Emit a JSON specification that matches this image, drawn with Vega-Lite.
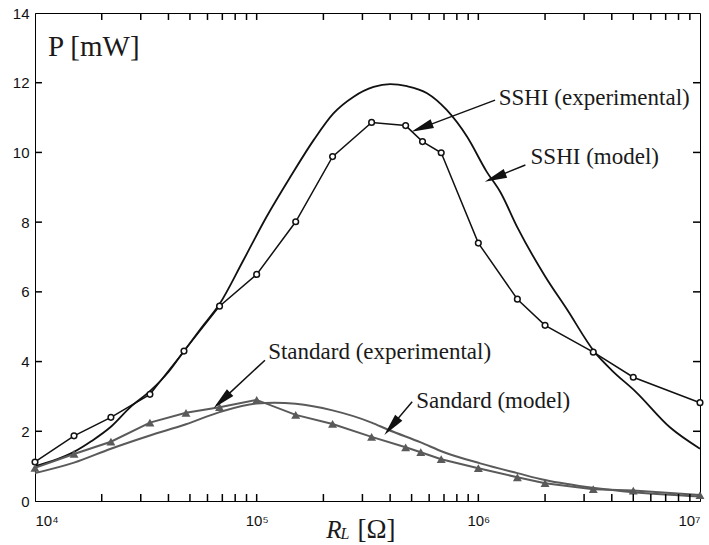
{
  "$schema": "https://vega.github.io/schema/vega-lite/v6.json",
  "width": 665,
  "height": 488,
  "autosize": {"type": "none"},
  "padding": {"left": 35, "top": 13, "right": 9, "bottom": 44},
  "background": "white",
  "config": {
    "view": {"stroke": "black", "strokeWidth": 1}
  },
  "datasets": {
    "curves": [
      {"series": "SSHI model", "R": 10000, "P": 1.0},
      {"series": "SSHI model", "R": 12000, "P": 1.15},
      {"series": "SSHI model", "R": 15000, "P": 1.41},
      {"series": "SSHI model", "R": 18000, "P": 1.72},
      {"series": "SSHI model", "R": 22000, "P": 2.13},
      {"series": "SSHI model", "R": 27000, "P": 2.7},
      {"series": "SSHI model", "R": 33000, "P": 3.15},
      {"series": "SSHI model", "R": 40000, "P": 3.7},
      {"series": "SSHI model", "R": 47000, "P": 4.3},
      {"series": "SSHI model", "R": 56000, "P": 4.95},
      {"series": "SSHI model", "R": 68000, "P": 5.65},
      {"series": "SSHI model", "R": 87000, "P": 6.9},
      {"series": "SSHI model", "R": 111000, "P": 8.16},
      {"series": "SSHI model", "R": 142000, "P": 9.3},
      {"series": "SSHI model", "R": 181000, "P": 10.36},
      {"series": "SSHI model", "R": 222000, "P": 11.12},
      {"series": "SSHI model", "R": 274000, "P": 11.6},
      {"series": "SSHI model", "R": 337000, "P": 11.88},
      {"series": "SSHI model", "R": 400000, "P": 11.96},
      {"series": "SSHI model", "R": 477000, "P": 11.9},
      {"series": "SSHI model", "R": 587000, "P": 11.7},
      {"series": "SSHI model", "R": 720000, "P": 11.22},
      {"series": "SSHI model", "R": 890000, "P": 10.45},
      {"series": "SSHI model", "R": 1090000, "P": 9.45},
      {"series": "SSHI model", "R": 1260000, "P": 8.85},
      {"series": "SSHI model", "R": 1500000, "P": 7.85},
      {"series": "SSHI model", "R": 2000000, "P": 6.45},
      {"series": "SSHI model", "R": 2510000, "P": 5.5},
      {"series": "SSHI model", "R": 3350000, "P": 4.27},
      {"series": "SSHI model", "R": 4000000, "P": 3.75},
      {"series": "SSHI model", "R": 5120000, "P": 3.14},
      {"series": "SSHI model", "R": 7360000, "P": 2.1},
      {"series": "SSHI model", "R": 10000000, "P": 1.5},
      {"series": "SSHI exp", "R": 10000, "P": 1.12},
      {"series": "SSHI exp", "R": 15000, "P": 1.87},
      {"series": "SSHI exp", "R": 22000, "P": 2.4},
      {"series": "SSHI exp", "R": 33000, "P": 3.06},
      {"series": "SSHI exp", "R": 47000, "P": 4.3},
      {"series": "SSHI exp", "R": 68000, "P": 5.59},
      {"series": "SSHI exp", "R": 100000, "P": 6.5},
      {"series": "SSHI exp", "R": 150000, "P": 8.01},
      {"series": "SSHI exp", "R": 220000, "P": 9.88},
      {"series": "SSHI exp", "R": 330000, "P": 10.86},
      {"series": "SSHI exp", "R": 470000, "P": 10.77},
      {"series": "SSHI exp", "R": 560000, "P": 10.31},
      {"series": "SSHI exp", "R": 680000, "P": 9.99},
      {"series": "SSHI exp", "R": 1000000, "P": 7.4},
      {"series": "SSHI exp", "R": 1500000, "P": 5.79},
      {"series": "SSHI exp", "R": 2000000, "P": 5.04},
      {"series": "SSHI exp", "R": 3300000, "P": 4.27},
      {"series": "SSHI exp", "R": 5000000, "P": 3.55},
      {"series": "SSHI exp", "R": 10000000, "P": 2.82},
      {"series": "Std model", "R": 10000, "P": 0.8},
      {"series": "Std model", "R": 15000, "P": 1.1},
      {"series": "Std model", "R": 22000, "P": 1.5},
      {"series": "Std model", "R": 33000, "P": 1.88},
      {"series": "Std model", "R": 48000, "P": 2.2},
      {"series": "Std model", "R": 68000, "P": 2.55},
      {"series": "Std model", "R": 100000, "P": 2.8},
      {"series": "Std model", "R": 120000, "P": 2.82},
      {"series": "Std model", "R": 150000, "P": 2.79},
      {"series": "Std model", "R": 220000, "P": 2.6},
      {"series": "Std model", "R": 330000, "P": 2.25},
      {"series": "Std model", "R": 390000, "P": 2.05},
      {"series": "Std model", "R": 550000, "P": 1.68},
      {"series": "Std model", "R": 700000, "P": 1.4},
      {"series": "Std model", "R": 1020000, "P": 1.08},
      {"series": "Std model", "R": 1500000, "P": 0.8},
      {"series": "Std model", "R": 2000000, "P": 0.6},
      {"series": "Std model", "R": 3350000, "P": 0.37},
      {"series": "Std model", "R": 5000000, "P": 0.25},
      {"series": "Std model", "R": 10000000, "P": 0.13},
      {"series": "Std exp", "R": 10000, "P": 0.95},
      {"series": "Std exp", "R": 15000, "P": 1.35},
      {"series": "Std exp", "R": 22000, "P": 1.7},
      {"series": "Std exp", "R": 33000, "P": 2.25},
      {"series": "Std exp", "R": 48000, "P": 2.53},
      {"series": "Std exp", "R": 68000, "P": 2.69},
      {"series": "Std exp", "R": 100000, "P": 2.9},
      {"series": "Std exp", "R": 150000, "P": 2.47},
      {"series": "Std exp", "R": 220000, "P": 2.21},
      {"series": "Std exp", "R": 330000, "P": 1.84},
      {"series": "Std exp", "R": 470000, "P": 1.54},
      {"series": "Std exp", "R": 550000, "P": 1.4},
      {"series": "Std exp", "R": 680000, "P": 1.2},
      {"series": "Std exp", "R": 1000000, "P": 0.94},
      {"series": "Std exp", "R": 1500000, "P": 0.68},
      {"series": "Std exp", "R": 2000000, "P": 0.51},
      {"series": "Std exp", "R": 3300000, "P": 0.34},
      {"series": "Std exp", "R": 5000000, "P": 0.3},
      {"series": "Std exp", "R": 10000000, "P": 0.17}
    ],
    "arrows": [
      {"label": "SSHI (experimental)", "tx": 1236000, "ty": 11.56, "x": 1190000, "y": 11.5, "x2": 520000, "y2": 10.64, "hx": 556000, "hy": 10.71, "angle": 249},
      {"label": "SSHI (model)", "tx": 1720000, "ty": 9.87, "x": 1630000, "y": 9.64, "x2": 1110000, "y2": 9.21, "hx": 1190000, "hy": 9.28, "angle": 248},
      {"label": "Standard (experimental)", "tx": 112700, "ty": 4.28, "x": 109000, "y": 4.04, "x2": 66000, "y2": 2.75, "hx": 69700, "hy": 2.89, "angle": 227},
      {"label": "Sandard (model)", "tx": 525000, "ty": 2.88, "x": 503000, "y": 2.85, "x2": 387000, "y2": 1.99, "hx": 406000, "hy": 2.14, "angle": 220}
    ],
    "titles": [
      {"t": "P [mW]", "x": 11450, "y": 13.02, "kind": "ylab"},
      {"t": "R", "x": 206000, "y": -1.06, "kind": "R"},
      {"t": "L", "x": 239000, "y": -1.1, "kind": "L"},
      {"t": "[Ω]", "x": 285000, "y": -1.06, "kind": "O"}
    ],
    "xticks": [
      {"R": 20000}, {"R": 30000}, {"R": 40000}, {"R": 50000}, {"R": 60000}, {"R": 70000}, {"R": 80000}, {"R": 90000},
      {"R": 100000}, {"R": 200000}, {"R": 300000}, {"R": 400000}, {"R": 500000}, {"R": 600000}, {"R": 700000}, {"R": 800000}, {"R": 900000},
      {"R": 1000000}, {"R": 2000000}, {"R": 3000000}, {"R": 4000000}, {"R": 5000000}, {"R": 6000000}, {"R": 7000000}, {"R": 8000000}, {"R": 9000000}
    ],
    "yticks": [{"P": 2}, {"P": 4}, {"P": 6}, {"P": 8}, {"P": 10}, {"P": 12}]
  },
  "layer": [
    {
      "data": {"name": "curves"},
      "transform": [{"filter": "datum.series == 'SSHI model'"}],
      "mark": {"type": "line", "color": "#111111", "strokeWidth": 1.8, "interpolate": "monotone"},
      "encoding": {
        "x": {"field": "R", "type": "quantitative", "scale": {"type": "log", "domain": [10000, 10000000], "nice": false},
          "axis": {"title": null, "orient": "bottom", "ticks": false, "grid": false, "domainColor": "black", "labelColor": "#111111", "labelFont": "Liberation Sans", "labelFontSize": 15, "labelPadding": 12, "values": [10000, 100000, 1000000, 10000000],
            "labelExpr": "datum.value == 10000 ? '10⁴' : datum.value == 100000 ? '10⁵' : datum.value == 1000000 ? '10⁶' : '10⁷'"}},
        "y": {"field": "P", "type": "quantitative", "scale": {"domain": [0, 14], "nice": false},
          "axis": {"title": null, "orient": "left", "ticks": false, "grid": false, "domainColor": "black", "labelColor": "#111111", "labelFont": "Liberation Sans", "labelFontSize": 15, "values": [0, 2, 4, 6, 8, 10, 12, 14], "labelPadding": 6}}
      }
    },
    {
      "data": {"name": "curves"},
      "transform": [{"filter": "datum.series == 'SSHI exp'"}],
      "mark": {"type": "line", "color": "#111111", "strokeWidth": 1.5, "point": {"shape": "circle", "filled": false, "size": 32, "stroke": "#111111", "strokeWidth": 1.5, "fill": "white"}},
      "encoding": {
        "x": {"field": "R", "type": "quantitative"},
        "y": {"field": "P", "type": "quantitative"}
      }
    },
    {
      "data": {"name": "curves"},
      "transform": [{"filter": "datum.series == 'Std model'"}],
      "mark": {"type": "line", "color": "#5a5a5a", "strokeWidth": 2, "interpolate": "monotone"},
      "encoding": {
        "x": {"field": "R", "type": "quantitative"},
        "y": {"field": "P", "type": "quantitative"}
      }
    },
    {
      "data": {"name": "curves"},
      "transform": [{"filter": "datum.series == 'Std exp'"}],
      "mark": {"type": "line", "color": "#5a5a5a", "strokeWidth": 2, "point": {"shape": "triangle-up", "filled": true, "size": 80, "color": "#5a5a5a"}},
      "encoding": {
        "x": {"field": "R", "type": "quantitative"},
        "y": {"field": "P", "type": "quantitative"}
      }
    },
    {
      "data": {"name": "arrows"},
      "mark": {"type": "rule", "color": "#111111", "strokeWidth": 1.5},
      "encoding": {
        "x": {"field": "x", "type": "quantitative"},
        "y": {"field": "y", "type": "quantitative"},
        "x2": {"field": "x2"},
        "y2": {"field": "y2"}
      }
    },
    {
      "data": {"name": "arrows"},
      "mark": {"type": "point", "shape": "M0,-1L0.42,1L-0.42,1Z", "filled": true, "color": "#111111", "size": 500, "opacity": 1},
      "encoding": {
        "x": {"field": "hx", "type": "quantitative"},
        "y": {"field": "hy", "type": "quantitative"},
        "angle": {"field": "angle", "type": "quantitative", "scale": null}
      }
    },
    {
      "data": {"name": "arrows"},
      "mark": {"type": "text", "font": "Liberation Serif", "fontSize": 23, "align": "left", "baseline": "middle", "color": "#1a1a1a"},
      "encoding": {
        "x": {"field": "tx", "type": "quantitative"},
        "y": {"field": "ty", "type": "quantitative"},
        "text": {"field": "label"}
      }
    },
    {
      "data": {"name": "titles"},
      "transform": [{"filter": "datum.kind == 'ylab'"}],
      "mark": {"type": "text", "font": "Liberation Serif", "fontSize": 29, "align": "left", "baseline": "middle", "color": "#1a1a1a"},
      "encoding": {
        "x": {"field": "x", "type": "quantitative"},
        "y": {"field": "y", "type": "quantitative"},
        "text": {"field": "t"}
      }
    },
    {
      "data": {"name": "titles"},
      "transform": [{"filter": "datum.kind == 'R'"}],
      "mark": {"type": "text", "font": "Liberation Serif", "fontSize": 25, "fontStyle": "italic", "align": "left", "baseline": "alphabetic", "color": "#1a1a1a"},
      "encoding": {
        "x": {"field": "x", "type": "quantitative"},
        "y": {"field": "y", "type": "quantitative"},
        "text": {"field": "t"}
      }
    },
    {
      "data": {"name": "titles"},
      "transform": [{"filter": "datum.kind == 'L'"}],
      "mark": {"type": "text", "font": "Liberation Serif", "fontSize": 16, "fontStyle": "italic", "align": "left", "baseline": "alphabetic", "color": "#1a1a1a"},
      "encoding": {
        "x": {"field": "x", "type": "quantitative"},
        "y": {"field": "y", "type": "quantitative"},
        "text": {"field": "t"}
      }
    },
    {
      "data": {"name": "titles"},
      "transform": [{"filter": "datum.kind == 'O'"}],
      "mark": {"type": "text", "font": "Liberation Serif", "fontSize": 27, "align": "left", "baseline": "alphabetic", "color": "#1a1a1a"},
      "encoding": {
        "x": {"field": "x", "type": "quantitative"},
        "y": {"field": "y", "type": "quantitative"},
        "text": {"field": "t"}
      }
    },
    {
      "data": {"name": "xticks"},
      "mark": {"type": "rule", "color": "black", "strokeWidth": 1.5},
      "encoding": {
        "x": {"field": "R", "type": "quantitative"},
        "y": {"datum": 0},
        "y2": {"datum": 0.2}
      }
    },
    {
      "data": {"name": "xticks"},
      "mark": {"type": "rule", "color": "black", "strokeWidth": 1.5},
      "encoding": {
        "x": {"field": "R", "type": "quantitative"},
        "y": {"datum": 14},
        "y2": {"datum": 13.8}
      }
    },
    {
      "data": {"name": "yticks"},
      "mark": {"type": "rule", "color": "black", "strokeWidth": 1.5},
      "encoding": {
        "y": {"field": "P", "type": "quantitative"},
        "x": {"datum": 10000},
        "x2": {"datum": 10750}
      }
    },
    {
      "data": {"name": "yticks"},
      "mark": {"type": "rule", "color": "black", "strokeWidth": 1.5},
      "encoding": {
        "y": {"field": "P", "type": "quantitative"},
        "x": {"datum": 10000000},
        "x2": {"datum": 9300000}
      }
    }
  ]
}
